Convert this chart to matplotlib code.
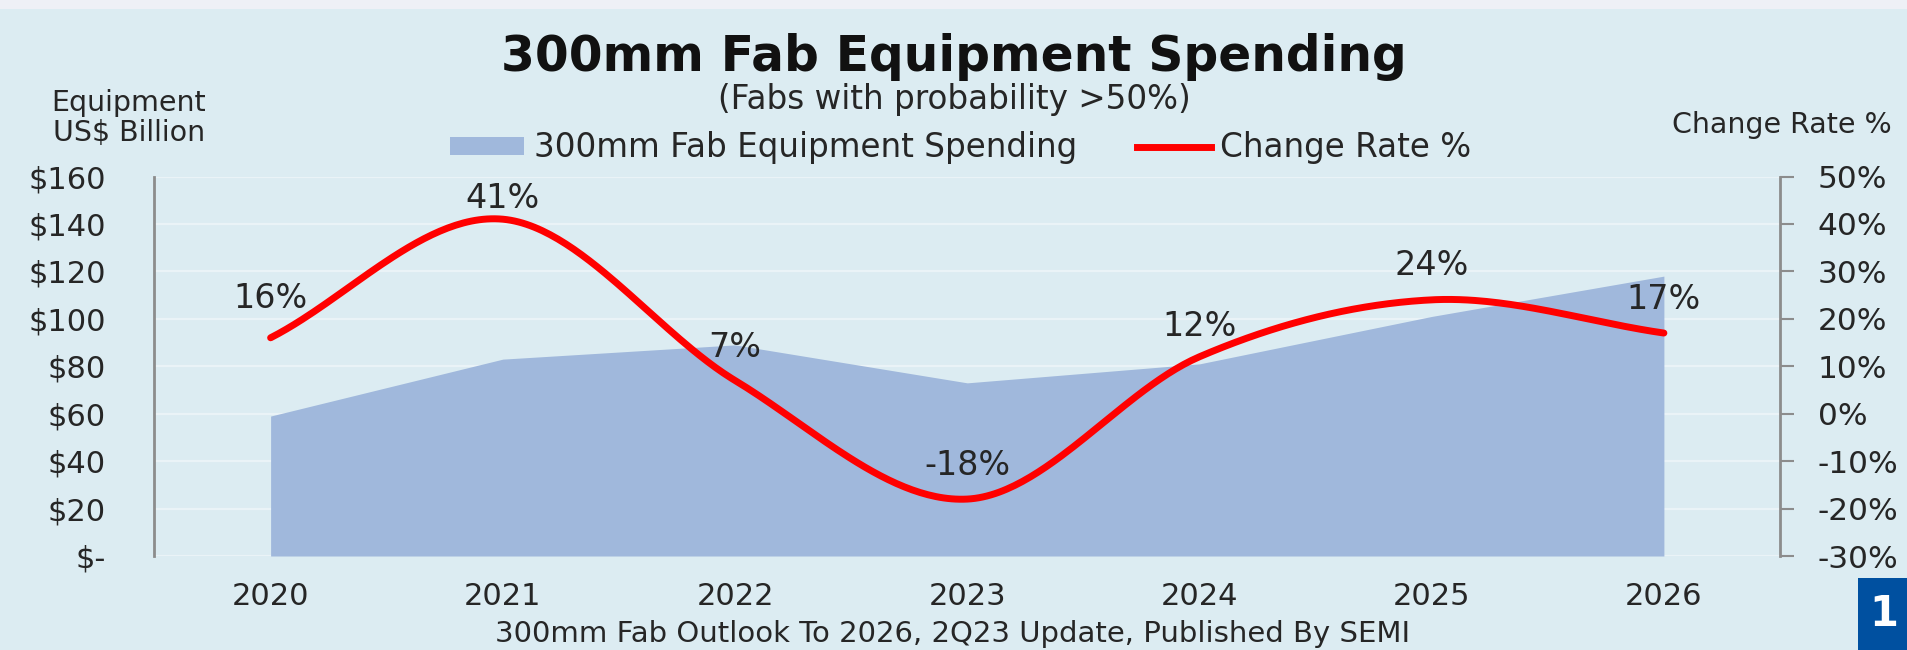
import numpy as np
import matplotlib
matplotlib.use("Agg")
import matplotlib.pyplot as plt
from matplotlib.patches import Rectangle, Patch
from matplotlib.lines import Line2D

# ---- data ----
years = ["2020", "2021", "2022", "2023", "2024", "2025", "2026"]
spending = [59, 83, 89, 73, 81, 101, 118]          # US$ billion
change_rate = [16, 41, 7, -18, 12, 24, 17]          # %
rate_labels = ["16%", "41%", "7%", "-18%", "12%", "24%", "17%"]
left_ticks = [0, 20, 40, 60, 80, 100, 120, 140, 160]
left_ticklabels = ["$-", "$20", "$40", "$60", "$80", "$100", "$120", "$140", "$160"]
right_ticks = [-30, -20, -10, 0, 10, 20, 30, 40, 50]
right_ticklabels = ["-30%", "-20%", "-10%", "0%", "10%", "20%", "30%", "40%", "50%"]

# label offsets in points (style)
label_dy = [28, 15, 24, 24, 22, 25, 24]

W, H = 1908, 650
BG = "#dcecf2"
AREA = "#a0b8dc"
RED = "#ff0000"
TXT = "#262626"
FONT = "DejaVu Sans"

plt.rcParams["font.family"] = [FONT]

fig = plt.figure(figsize=(W / 100, H / 100), dpi=100, facecolor=BG)

# top light strip
fig.patches.append(Rectangle((0, 1 - 9 / H), 1, 9 / H, transform=fig.transFigure,
                             facecolor="#eef0f6", edgecolor="none", zorder=0))

ax = fig.add_axes([154.5 / W, 1 - 556 / H, (1780 - 154.5) / W, (556 - 176.5) / H])
ax.set_facecolor(BG)
x = np.arange(len(years))

ax.fill_between(x, 0, spending, color=AREA, linewidth=0, zorder=2)
ax.set_xlim(-0.5, len(years) - 0.5)
ax.set_ylim(0, 160)
ax.set_yticks(left_ticks)
ax.set_yticklabels(left_ticklabels)
ax.set_xticks(x)
ax.set_xticklabels(years)
ax.yaxis.grid(True, color="#eaf3f7", linewidth=1.6, zorder=1)
ax.set_axisbelow(True)
for s in ["top", "right", "bottom"]:
    ax.spines[s].set_visible(False)
ax.spines["left"].set_color("#8c8c8c")
ax.spines["left"].set_linewidth(2)
ax.tick_params(axis="y", length=0, pad=35, labelsize=22, labelcolor=TXT)
ax.tick_params(axis="x", length=0, pad=19, labelsize=22, labelcolor=TXT)

ax2 = ax.twinx()
ax2.set_ylim(-30, 50)
ax2.set_yticks(right_ticks)
ax2.set_yticklabels(right_ticklabels)
for s in ["top", "left", "bottom"]:
    ax2.spines[s].set_visible(False)
ax2.spines["right"].set_color("#8c8c8c")
ax2.spines["right"].set_linewidth(2)
ax2.tick_params(axis="y", length=10, width=1.5, color="#8c8c8c", pad=17,
                labelsize=22.5, labelcolor=TXT)

# smooth line (Catmull-Rom through the data points, like Excel's smoothed line)
xs = x.astype(float)
ys = np.array(change_rate, dtype=float)
px = np.concatenate([[2 * xs[0] - xs[1]], xs, [2 * xs[-1] - xs[-2]]])
py = np.concatenate([[2 * ys[0] - ys[1]], ys, [2 * ys[-1] - ys[-2]]])
cx, cy = [], []
t = np.linspace(0, 1, 60)
for i in range(1, len(px) - 2):
    p0, p1, p2, p3 = px[i - 1], px[i], px[i + 1], px[i + 2]
    q0, q1, q2, q3 = py[i - 1], py[i], py[i + 1], py[i + 2]
    c1x, c1y = p1 + (p2 - p0) / 6, q1 + (q2 - q0) / 6
    c2x, c2y = p2 - (p3 - p1) / 6, q2 - (q3 - q1) / 6
    bx = (1 - t) ** 3 * p1 + 3 * (1 - t) ** 2 * t * c1x + 3 * (1 - t) * t ** 2 * c2x + t ** 3 * p2
    by = (1 - t) ** 3 * q1 + 3 * (1 - t) ** 2 * t * c1y + 3 * (1 - t) * t ** 2 * c2y + t ** 3 * q2
    cx.extend(bx)
    cy.extend(by)
ax2.plot(cx, cy, color=RED, linewidth=5, solid_capstyle="round", zorder=4)

for xi, yi, lab, dy in zip(x, change_rate, rate_labels, label_dy):
    ax2.annotate(lab, (xi, yi), xytext=(0, dy), textcoords="offset points",
                 ha="center", va="center", fontsize=24, color=TXT, zorder=5)

# titles
fig.text(954 / W, 1 - 57 / H, "300mm Fab Equipment Spending", ha="center", va="center",
         fontsize=35, fontweight="bold", color="#111111")
fig.text(954 / W, 1 - 100 / H, "(Fabs with probability >50%)", ha="center", va="center",
         fontsize=23.5, color=TXT)
fig.text(129 / W, 1 - 103 / H, "Equipment", ha="center", va="center", fontsize=20.5, color=TXT)
fig.text(129 / W, 1 - 133 / H, "US$ Billion", ha="center", va="center", fontsize=20.5, color=TXT)
fig.text(1892 / W, 1 - 125 / H, "Change Rate %", ha="right", va="center", fontsize=20.5, color=TXT)
fig.text(953 / W, 1 - 634 / H, "300mm Fab Outlook To 2026, 2Q23 Update, Published By SEMI",
         ha="center", va="center", fontsize=21, color=TXT)

# legend
handles = [Patch(facecolor=AREA, edgecolor="none"),
           Line2D([0], [0], color=RED, linewidth=5)]
fig.legend(handles, ["300mm Fab Equipment Spending", "Change Rate %"],
           loc="center", bbox_to_anchor=(961 / W, 1 - 148 / H), ncol=2,
           frameon=False, fontsize=23.5, handlelength=2.25, handleheight=0.45,
           handletextpad=0.3, columnspacing=1.85, labelcolor=TXT)

# blue corner box with "1"
fig.patches.append(Rectangle((1858 / W, 0), 60 / W, (650 - 578) / H, transform=fig.transFigure,
                             facecolor="#0050a0", edgecolor="none", zorder=3))
fig.text(1884 / W, 1 - 614 / H, "1", ha="center", va="center", fontsize=30, fontweight="bold",
         color="white", zorder=4)

fig.savefig("out.png", dpi=100, facecolor=BG)
